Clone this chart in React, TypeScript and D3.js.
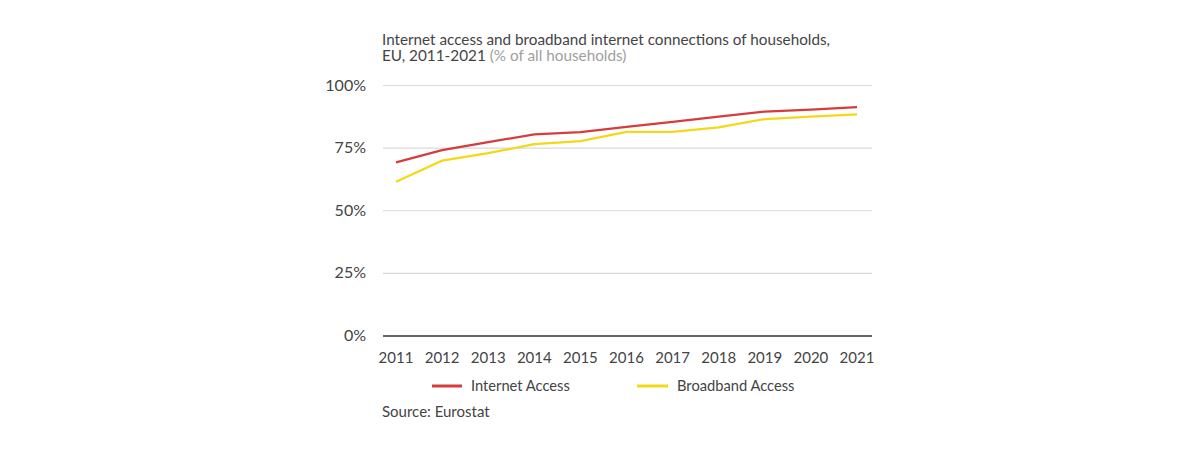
import React from "react";
import * as d3 from "d3";

const years = ["2011", "2012", "2013", "2014", "2015", "2016", "2017", "2018", "2019", "2020", "2021"];
const internetAccess = [69.3, 74.2, 77.4, 80.5, 81.4, 83.5, 85.5, 87.6, 89.6, 90.4, 91.4];
const broadbandAccess = [61.6, 70.0, 73.0, 76.6, 77.8, 81.5, 81.5, 83.3, 86.6, 87.6, 88.5];
const yTicks = [0, 25, 50, 75, 100];
const seriesNames = ["Internet Access", "Broadband Access"];

const FONT = "Lato, 'Noto Sans', sans-serif";
const RED = "#d63c3c";
const YELLOW = "#f3d817";

export default function App() {
  const W = 1200, H = 450;
  const left = 383, right = 872;
  const x = d3.scalePoint<string>().domain(years).range([396, 857]);
  const y = d3.scaleLinear().domain([0, 100]).range([336, 85.5]);
  const line = d3.line<number>().x((_, i) => x(years[i]) as number).y((d) => y(d));

  return (
    <svg width={W} height={H} style={{ position: "absolute", left: 0, top: 0, fontFamily: FONT }}>
      <rect width={W} height={H} fill="#fff" />
      <text x={382} y={45} fontSize={15.3} fill="#444" textLength={448} lengthAdjust="spacingAndGlyphs">Internet access and broadband internet connections of households,</text>
      <text x={382} y={61} fontSize={15.3} fill="#444">
        EU, 2011-2021 <tspan fill="#a0a0a0">(% of all households)</tspan>
      </text>
      {yTicks.map((t) => (
        <g key={t}>
          {t > 0 && <line x1={left} x2={right} y1={y(t)} y2={y(t)} stroke="#d9d9d9" strokeWidth={1.2} />}
          <text x={366} y={y(t) + 5} textAnchor="end" fontSize={16} fill="#444">{t}%</text>
        </g>
      ))}
      <line x1={left} x2={right} y1={y(0)} y2={y(0)} stroke="#666" strokeWidth={2} />
      {years.map((yr) => (
        <text key={yr} x={x(yr)} y={363} textAnchor="middle" fontSize={15} fill="#444">{yr}</text>
      ))}
      <path d={line(broadbandAccess) || ""} fill="none" stroke={YELLOW} strokeWidth={2.2} />
      <path d={line(internetAccess) || ""} fill="none" stroke={RED} strokeWidth={2.2} />
      <line x1={432} x2={462} y1={386} y2={386} stroke={RED} strokeWidth={3} />
      <text x={471} y={391} fontSize={14.7} fill="#444">{seriesNames[0]}</text>
      <line x1={637} x2={668} y1={386} y2={386} stroke={YELLOW} strokeWidth={3} />
      <text x={677} y={391} fontSize={14.7} fill="#444">{seriesNames[1]}</text>
      <text x={382} y={417} fontSize={15} fill="#444">Source: Eurostat</text>
    </svg>
  );
}
